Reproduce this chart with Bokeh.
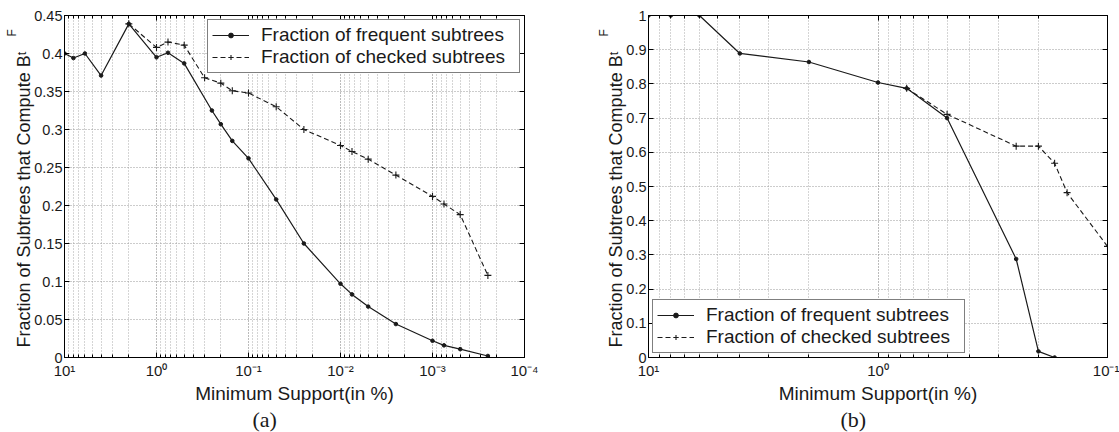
import math
from bokeh.plotting import figure
from bokeh.models import (Range1d, FixedTicker, CustomJSTickFormatter, LogAxis,
                          LinearAxis, Title)
from bokeh.layouts import row
from bokeh.embed import file_html
from bokeh.resources import INLINE

# ---------------- data ----------------
series_names = ["Fraction of frequent subtrees", "Fraction of checked subtrees"]

# panel (a)
freq_a_x = [10, 8, 6, 4, 2, 1, 0.75, 0.5, 0.25, 0.2, 0.15, 0.1, 0.05, 0.025,
            0.01, 0.0075, 0.005, 0.0025, 0.001, 0.00075, 0.0005, 0.00025]
freq_a_y = [0.400, 0.394, 0.400, 0.371, 0.439, 0.395, 0.401, 0.387, 0.325, 0.307,
            0.285, 0.262, 0.208, 0.150, 0.097, 0.083, 0.067, 0.044, 0.022, 0.016,
            0.011, 0.002]
check_a_x = [2, 1, 0.75, 0.5, 0.3, 0.2, 0.15, 0.1, 0.05, 0.025, 0.01, 0.0075,
             0.005, 0.0025, 0.001, 0.00075, 0.0005, 0.00025]
check_a_y = [0.439, 0.408, 0.415, 0.411, 0.368, 0.361, 0.351, 0.348, 0.330, 0.300,
             0.279, 0.271, 0.261, 0.240, 0.212, 0.202, 0.188, 0.108]

# panel (b)
freq_b_x = [10, 8, 6, 4, 2, 1, 0.75, 0.5, 0.25, 0.2, 0.17]
freq_b_y = [1.0, 1.0, 1.0, 0.889, 0.864, 0.804, 0.787, 0.700, 0.288, 0.018, 0.0]
check_b_x = [0.75, 0.5, 0.25, 0.2, 0.17, 0.15, 0.1]
check_b_y = [0.787, 0.711, 0.618, 0.618, 0.568, 0.482, 0.325]

# axes / ticks
x_tick_vals_a = [10, 1, 0.1, 0.01, 0.001, 0.0001]
x_tick_labels_a = ["10\u00b9", "10\u2070", "10\u207b\u00b9", "10\u207b\u00b2",
                   "10\u207b\u00b3", "10\u207b\u2074"]
x_tick_vals_b = [10, 1, 0.1]
x_tick_labels_b = ["10\u00b9", "10\u2070", "10\u207b\u00b9"]
y_tick_vals_a = [0, 0.05, 0.1, 0.15, 0.2, 0.25, 0.3, 0.35, 0.4, 0.45]
y_tick_labels_a = ["0", "0.05", "0.1", "0.15", "0.2", "0.25", "0.3", "0.35", "0.4", "0.45"]
y_tick_vals_b = [0, 0.1, 0.2, 0.3, 0.4, 0.5, 0.6, 0.7, 0.8, 0.9, 1]
y_tick_labels_b = ["0", "0.1", "0.2", "0.3", "0.4", "0.5", "0.6", "0.7", "0.8", "0.9", "1"]

x_label = "Minimum Support(in %)"
y_label = "Fraction of Subtrees that Compute B\u1d57"
y_label_sup = "F"
captions = ["(a)", "(b)"]

FONT = "Liberation Sans"
INK = "#1a1a1a"


def minor_for(major):
    lo = min(major)
    hi = max(major)
    out = []
    d = lo
    while d < hi * 0.999:
        for k in range(2, 10):
            out.append(d * k)
        d *= 10
    return out


def xfmt(vals, labs):
    return CustomJSTickFormatter(args=dict(vals=vals, labs=labs), code="""
        let best = 0, bd = Infinity;
        for (let i = 0; i < vals.length; i++) {
            const d = Math.abs(Math.log10(vals[i]) - Math.log10(tick));
            if (d < bd) { bd = d; best = i; }
        }
        return bd < 1e-6 ? labs[best] : "";
    """)


def yfmt(vals, labs):
    return CustomJSTickFormatter(args=dict(vals=vals, labs=labs), code="""
        let best = 0, bd = Infinity;
        for (let i = 0; i < vals.length; i++) {
            const d = Math.abs(vals[i] - tick);
            if (d < bd) { bd = d; best = i; }
        }
        return bd < 1e-6 ? labs[best] : "";
    """)


def style_axis(ax):
    ax.axis_line_color = "black"
    ax.axis_line_width = 1
    ax.major_tick_line_color = "black"
    ax.minor_tick_line_color = "black"
    ax.major_tick_in = 5
    ax.major_tick_out = 0
    ax.minor_tick_in = 3
    ax.minor_tick_out = 0
    ax.major_label_text_font = FONT
    ax.major_label_text_font_size = "15px"
    ax.major_label_text_color = INK
    ax.axis_label_text_font = FONT
    ax.axis_label_text_font_size = "19px"
    ax.axis_label_text_font_style = "normal"
    ax.axis_label_text_color = INK


def make_title(text, align, offset, font, size, standoff, line_height=None):
    t = Title(text=text, align=align, offset=offset, text_font=font,
              text_font_size=size, text_font_style="normal", text_color=INK,
              standoff=0)
    try:
        t.standoff = standoff
    except Exception:
        pass
    if line_height is not None:
        try:
            t.text_line_height = line_height
        except Exception:
            pass
    return t


def make_panel(width, bl, br, xr, yr, xt_vals, xt_labs, yt_vals, yt_labs,
               fx, fy, cx, cy, legend_loc, caption, cap_offset):
    p = figure(width=width, height=432, x_axis_type="log",
               x_range=Range1d(*xr), y_range=Range1d(*yr),
               output_backend="svg", toolbar_location=None,
               min_border_left=bl, min_border_right=br,
               min_border_top=15, min_border_bottom=75)
    p.background_fill_color = "white"
    p.border_fill_color = "white"
    p.outline_line_color = "black"
    p.outline_line_width = 1

    xticker = FixedTicker(ticks=xt_vals, minor_ticks=minor_for(xt_vals))
    yticker = FixedTicker(ticks=yt_vals, minor_ticks=[])

    xa = p.xaxis[0]
    xa.ticker = xticker
    xa.formatter = xfmt(xt_vals, xt_labs)
    xa.axis_label = x_label
    style_axis(xa)
    xa.major_label_standoff = 4
    xa.axis_label_standoff = 1

    ya = p.yaxis[0]
    ya.ticker = yticker
    ya.formatter = yfmt(yt_vals, yt_labs)
    style_axis(ya)
    ya.major_label_text_font_size = "14.5px"
    ya.major_label_standoff = 2

    empty = CustomJSTickFormatter(code="return '';")
    top = LogAxis(ticker=xticker, formatter=empty)
    style_axis(top)
    top.major_label_text_font_size = "0px"
    top.major_label_standoff = 0
    p.add_layout(top, "above")
    right = LinearAxis(ticker=yticker, formatter=empty)
    style_axis(right)
    right.major_label_text_font_size = "0px"
    right.major_label_standoff = 0
    p.add_layout(right, "right")

    p.xgrid.ticker = xticker
    p.xgrid.grid_line_color = "#777777"
    p.xgrid.grid_line_dash = "1 2"
    p.xgrid.grid_line_width = 1
    p.xgrid.minor_grid_line_color = "#aaaaaa"
    p.xgrid.minor_grid_line_dash = "1 2"
    p.ygrid.ticker = yticker
    p.ygrid.grid_line_color = "#999999"
    p.ygrid.grid_line_dash = "1 2"

    p.line(fx, fy, line_color=INK, line_width=1.2, legend_label=series_names[0])
    p.scatter(fx, fy, marker="circle", size=3.6, fill_color=INK, line_color=INK,
              legend_label=series_names[0])
    p.line(cx, cy, line_color=INK, line_width=1.1, line_dash="5 3",
           legend_label=series_names[1])
    p.scatter(cx, cy, marker="cross", size=7, line_color=INK, line_width=1.1,
              legend_label=series_names[1])

    lg = p.legend[0]
    lg.location = legend_loc
    lg.margin = 4
    lg.padding = 4
    lg.spacing = 0
    lg.glyph_width = 37
    lg.glyph_height = 12
    lg.label_standoff = 12
    lg.label_width = 254
    lg.label_height = 20
    lg.label_text_font = FONT
    lg.label_text_font_size = "19px"
    lg.label_text_color = INK
    lg.border_line_color = "black"
    lg.border_line_width = 1.5
    lg.background_fill_color = "white"
    lg.background_fill_alpha = 1

    # y-axis label (B^F_t) as side titles
    p.add_layout(make_title(y_label, "left", 10, FONT, "18px", -4, 0.75), "left")
    p.add_layout(make_title(y_label_sup, "left", 321, FONT, "12px", -10, 0.8), "left")
    # caption (a)/(b)
    p.add_layout(make_title(caption, "left", cap_offset, "Liberation Serif",
                            "22px", -4), "below")
    return p


pa = make_panel(560, 64, 36, (10, 0.0001), (0, 0.45),
                x_tick_vals_a, x_tick_labels_a, y_tick_vals_a, y_tick_labels_a,
                freq_a_x, freq_a_y, check_a_x, check_a_y, "top_right",
                captions[0], 188)
pb = make_panel(559, 88, 12, (10, 0.1), (0, 1),
                x_tick_vals_b, x_tick_labels_b, y_tick_vals_b, y_tick_labels_b,
                freq_b_x, freq_b_y, check_b_x, check_b_y, "bottom_left",
                captions[1], 192)

layout = row(pa, pb)
open("out.html", "w").write(file_html(layout, INLINE))
